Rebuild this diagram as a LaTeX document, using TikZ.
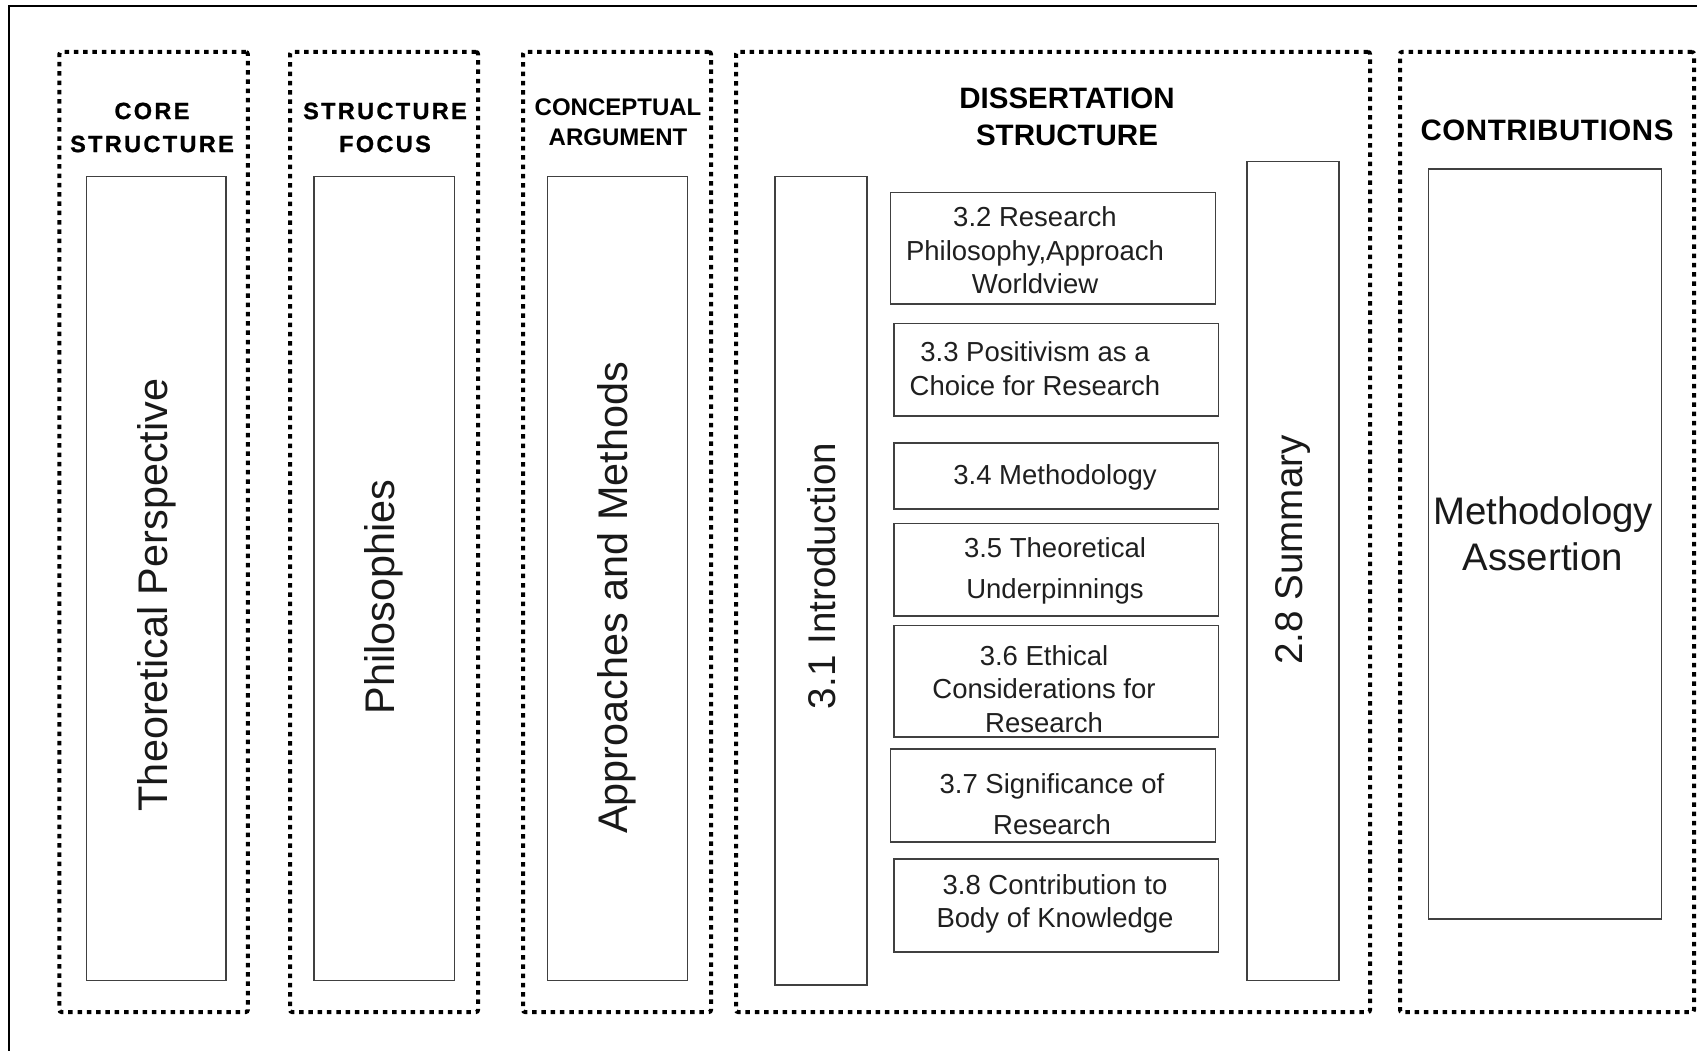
\documentclass[tikz,border=0pt]{standalone}
\usepackage{fontspec}
\setmainfont{Liberation Sans}
\begin{document}
\begin{tikzpicture}[x=1pt,y=-1pt,
  frame/.style={draw=black, line width=2pt},
  group/.style={draw=black, line width=4pt, dash pattern=on 4.5pt off 4.8pt,
                rounded corners=2pt, inner sep=0pt, minimum height=960pt},
  panel/.style={draw=black!75, line width=1.5pt, inner sep=0pt},
  spacedhead/.style={align=center, text=black, inner sep=0pt,
    font={\fontsize{23.5}{33}\selectfont\bfseries\addfontfeature{LetterSpace=10,FakeBold=1}}},
  heading/.style={align=center, text=black, inner sep=0pt,
    font={\fontsize{24}{30.5}\selectfont\bfseries}},
  bighead/.style={align=center, text=black, inner sep=0pt,
    font={\fontsize{29.5}{36.5}\selectfont\bfseries}},
  vlabel/.style={rotate=90, inner sep=0pt, text=black!90,
    font={\fontsize{41.4}{48}\selectfont}},
  vlabelsm/.style={rotate=90, inner sep=0pt, text=black!90,
    font={\fontsize{38.6}{46}\selectfont}},
  item/.style={align=center, inner sep=0pt, text=black!88,
    font={\fontsize{27.5}{33.5}\selectfont}},
  itemwide/.style={align=center, inner sep=0pt, text=black!88,
    font={\fontsize{27.5}{41.5}\selectfont}},
]
\useasboundingbox (0,0) rectangle (1697,1051);

% outer frame (left and top edges)
\coordinate (fbl) at (9,1051);
\coordinate (ftl) at (9,6);
\coordinate (ftr) at (1697,6);
\draw[frame] (fbl) -- (ftl) -- (ftr);

% dotted column groups
\node[group, minimum width=188.3pt] (g1) at (153.6,532) {};
\node[group, minimum width=188pt]   (g2) at (384,532) {};
\node[group, minimum width=188pt]   (g3) at (617,532) {};
\node[group, minimum width=634pt]   (g4) at (1053,532) {};
\node[group, minimum width=294pt]   (g5) at (1547,532) {};

% column headings
\node[spacedhead] (h1) at (152,127.5) {CORE\\STRUCTURE};
\node[spacedhead] (h2) at (385,127.5) {STRUCTURE\\FOCUS};
\node[heading]    (h3) at (618,122) {CONCEPTUAL\\ARGUMENT};
\node[bighead]    (h4) at (1067,117) {DISSERTATION\\STRUCTURE};
\node[bighead, font={\fontsize{29.5}{36}\selectfont\bfseries\addfontfeature{LetterSpace=2}}]
                  (h5) at (1547,130) {CONTRIBUTIONS};

% tall panels
\node[panel, minimum width=139.6pt, minimum height=804.2pt] (p1) at (156.4,578.5) {};
\node[panel, minimum width=140.7pt, minimum height=804.2pt] (p2) at (384.2,578.5) {};
\node[panel, minimum width=139.7pt, minimum height=804.2pt] (p3) at (617.4,578.5) {};
\node[panel, minimum width=92pt, minimum height=808.6pt]    (pintro) at (821,580.7) {};
\node[panel, minimum width=92pt, minimum height=819.3pt]    (psum) at (1293,571) {};
\node[panel, minimum width=232.7pt, minimum height=750pt]   (pcon) at (1545,543.9) {};

\node[vlabel] (t1) at (157,595) {Theoretical Perspective};
\node[vlabel] (t2) at (384,597) {Philosophies};
\node[vlabel] (t3) at (617,598) {Approaches and Methods};
\node[vlabelsm] (tintro) at (822,576) {3.1 Introduction};
\node[vlabelsm] (tsum) at (1293,550) {2.8 Summary};
\node[align=center, inner sep=0pt, text=black!90,
      font={\fontsize{38.4}{46}\selectfont}] (tcon) at (1543,534) {Methodology\\Assertion};

% dissertation sections
\node[panel, minimum width=324.7pt, minimum height=111.5pt] (b32) at (1053,248.4) {};
\node[panel, minimum width=324.7pt, minimum height=92.4pt]  (b33) at (1056.3,369.8) {};
\node[panel, minimum width=324.7pt, minimum height=66.3pt]  (b34) at (1056.3,475.9) {};
\node[panel, minimum width=324.7pt, minimum height=92.5pt]  (b35) at (1056.3,569.8) {};
\node[panel, minimum width=324.7pt, minimum height=111.7pt] (b36) at (1056.3,681.2) {};
\node[panel, minimum width=324.7pt, minimum height=93pt]    (b37) at (1053,795.5) {};
\node[panel, minimum width=324.7pt, minimum height=93pt]    (b38) at (1056.3,905.5) {};

\node[item]     (s32) at (1035,250.5) {3.2 Research\\Philosophy,Approach\\Worldview};
\node[item]     (s33) at (1035,368.5) {3.3 Positivism as a\\Choice for Research};
\node[item]     (s34) at (1055,477.3) {3.4 Methodology};
\node[itemwide] (s35) at (1055,571)   {3.5 Theoretical\\Underpinnings};
\node[item]     (s36) at (1044,689)   {3.6 Ethical\\Considerations for\\Research};
\node[itemwide] (s37) at (1052,804)   {3.7 Significance of\\Research};
\node[item]     (s38) at (1055,904)   {3.8 Contribution to\\Body of Knowledge};
\end{tikzpicture}
\end{document}
